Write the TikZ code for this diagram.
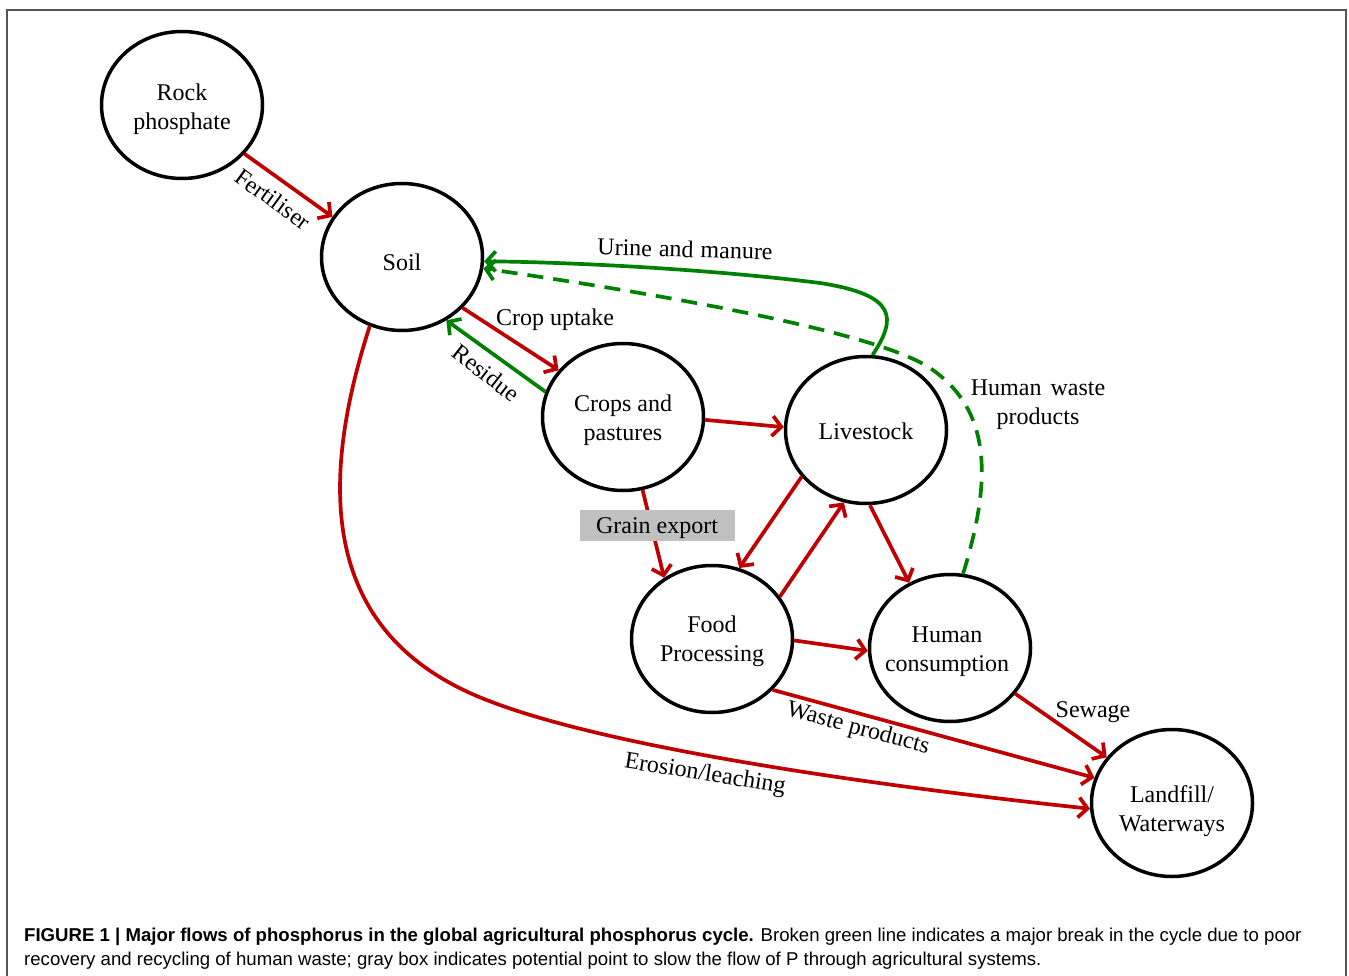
\documentclass[tikz,border=0pt]{standalone}
\usepackage{fontspec}
\setmainfont{Liberation Serif}
\newfontfamily\capfont{Liberation Sans}
\usetikzlibrary{arrows.meta,shapes.geometric}
\definecolor{pred}{RGB}{192,0,0}
\definecolor{pgreen}{RGB}{0,128,0}
\definecolor{pgray}{RGB}{192,192,192}
\definecolor{framegray}{RGB}{85,85,85}
\begin{document}
\begin{tikzpicture}[x=1pt,y=-1pt,
  pool/.style={ellipse,draw=black,line width=3.5pt,minimum width=161pt,minimum height=147pt,inner sep=0pt},
  pooltext/.style={font=\fontsize{24}{29}\selectfont,inner sep=0pt,align=center},
  flow/.style={draw=pred,line width=3.7pt,-{Straight Barb[length=9pt,width=20pt]}},
  gflow/.style={draw=pgreen,line width=3.7pt,-{Straight Barb[length=9pt,width=20pt]}},
  lbl/.style={font=\fontsize{24}{29}\selectfont,inner sep=1pt,align=center},
  captext/.style={anchor=base west,inner sep=0pt,font=\capfont\fontsize{18.6}{22}\selectfont}]
\useasboundingbox (0,0) rectangle (1349,976);
\draw[framegray,line width=2pt] (7,976) -- (7,10) -- (1346,10) -- (1346,976);
% pools
\node[pool] (rock) at (182,105) {};
\node[pool] (soil) at (402,257) {};
\node[pool] (crops) at (623,417) {};
\node[pool] (live) at (866,430) {};
\node[pool] (food) at (712,639) {};
\node[pool] (human) at (950,648) {};
\node[pool] (land) at (1172,803) {};
\node[pooltext] (trock) at (182,109) {Rock\\phosphate};
\node[pooltext] (tsoil) at (402,262) {Soil};
\node[pooltext] (tcrops) at (623,420.5) {Crops and\\pastures};
\node[pooltext] (tlive) at (866,431) {Livestock};
\node[pooltext] (tfood) at (712,641.5) {Food\\Processing};
\node[pooltext] (thuman) at (947,651.5) {Human\\consumption};
\node[pooltext] (tland) at (1172,811) {Landfill/\\Waterways};
% flows
\draw[flow] (rock.-38) -- (soil.150);
\draw[flow] (soil.-40) -- (crops.144);
\draw[gflow] (crops.162) -- (soil.-55);
\draw[flow] (crops.-2) -- (live.178);
\draw[flow] (crops.-75) -- (food.128);
\draw[flow] (live.-144) -- (food.69);
\draw[flow] (food.32) -- (live.-107);
\draw[flow] (live.-87) -- (human.122);
\draw[flow] (food.-1) -- (human.-178);
\draw[flow] (food.-40) -- (land.162);
\draw[flow] (human.-35) -- (land.145);
\draw[flow] (soil.-115) .. controls (320,480) and (320,625) .. (470,693) .. controls (580,743) and (850,783) .. (land.-176);
\draw[gflow] (live.85) .. controls (897,318) and (897,295) .. (820,283) .. controls (700,268) and (560,262) .. (soil.-3);
\draw[gflow,dash pattern=on 16pt off 10pt] (human.80) .. controls (992,480) and (992,410) .. (930,368) .. controls (880,335) and (700,300) .. (soil.-8);
% grain export box
\node[lbl,fill=pgray,minimum width=155pt,minimum height=31pt,inner sep=0pt] (grain) at (657,525) {\raisebox{-3pt}[\height][\depth]{Grain export}};
% labels
\node[lbl,rotate=-36] (lfert) at (273,199) {Fertiliser};
\node[lbl] (lcrop) at (555,320) {Crop uptake};
\node[lbl,rotate=-38] (lres) at (486,373) {Residue};
\node[lbl,rotate=-1.5] (lurine) at (685,249) {Urine\hspace{7pt}and\hspace{7pt}manure};
\node[lbl] (lhw) at (1038,405) {Human\hspace{9pt}waste\\products};
\node[lbl] (lsew) at (1093,712) {Sewage};
\node[lbl,rotate=-15] (lwaste) at (858,729) {Waste products};
\node[lbl,rotate=-9] (lero) at (705,775) {Erosion/leaching};
% caption
\node[captext] (cap1) at (24,941) {\textbf{FIGURE 1 | Major flows of phosphorus in the global agricultural phosphorus cycle.} Broken green line indicates a major break in the cycle due to poor};
\node[captext] (cap2) at (24,965) {recovery and recycling of human waste; gray box indicates potential point to slow the flow of P through agricultural systems.};
\end{tikzpicture}
\end{document}
